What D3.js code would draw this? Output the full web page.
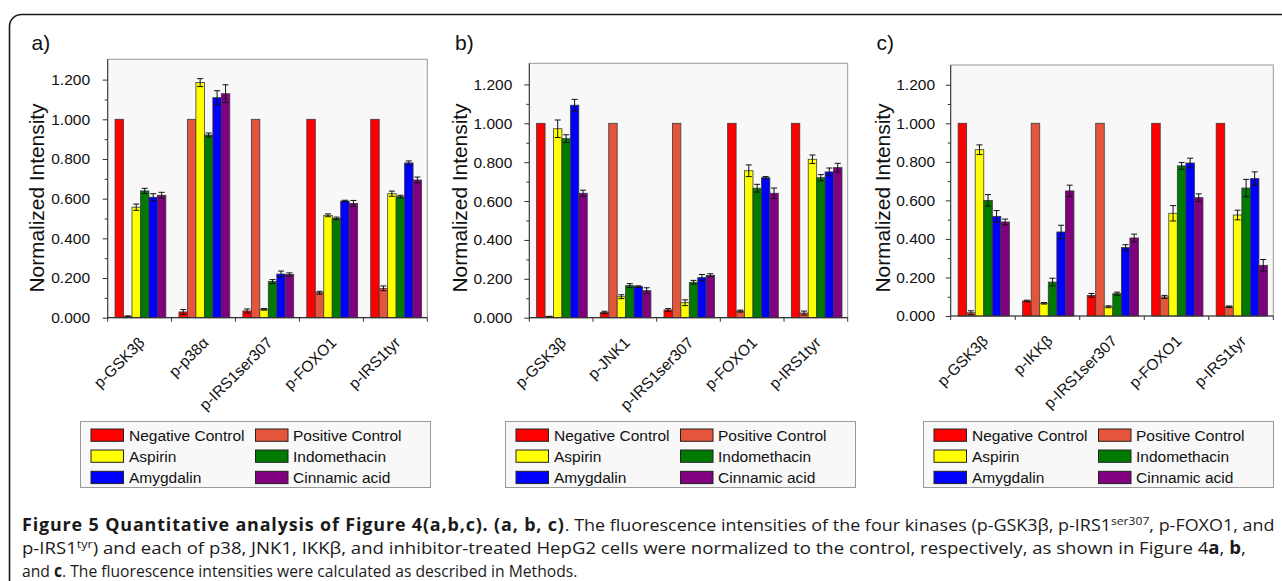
<!DOCTYPE html>
<html>
<head>
<meta charset="utf-8">
<script src="https://cdn.jsdelivr.net/npm/d3@7"></script>
<style>
html,body{margin:0;padding:0;background:#fff;}
svg{display:block;}
</style>
</head>
<body>
<svg id="chart" width="1282" height="581"></svg>
<script>
// ---------------- DATA ----------------
const seriesNames = ["Negative Control","Positive Control","Aspirin","Indomethacin","Amygdalin","Cinnamic acid"];
const categoriesA = ["p-GSK3β","p-p38α","p-IRS1ser307","p-FOXO1","p-IRS1tyr"];
const categoriesB = ["p-GSK3β","p-JNK1","p-IRS1ser307","p-FOXO1","p-IRS1tyr"];
const categoriesC = ["p-GSK3β","p-IKKβ","p-IRS1ser307","p-FOXO1","p-IRS1tyr"];
const yTickValues = [0,0.2,0.4,0.6,0.8,1.0,1.2];
const yMinorTickValues = [0.1,0.3,0.5,0.7,0.9,1.1];

// rows = categories, columns = series
const valuesA = [
  [1.000, 0.006, 0.557, 0.639, 0.607, 0.617],
  [0.029, 1.000, 1.185, 0.921, 1.109, 1.129],
  [0.034, 1.000, 0.042, 0.182, 0.220, 0.218],
  [1.000, 0.126, 0.516, 0.501, 0.588, 0.576],
  [1.000, 0.148, 0.625, 0.610, 0.780, 0.694]
];
const errorsA = [
  [0, 0.003, 0.016, 0.013, 0.018, 0.015],
  [0.012, 0, 0.020, 0.010, 0.035, 0.045],
  [0.010, 0, 0.004, 0.010, 0.015, 0.008],
  [0, 0.007, 0.007, 0.006, 0.004, 0.015],
  [0, 0.012, 0.013, 0.007, 0.010, 0.015]
];
const valuesB = [
  [1.000, 0.005, 0.972, 0.921, 1.093, 0.640],
  [0.027, 1.000, 0.108, 0.165, 0.160, 0.139],
  [0.040, 1.000, 0.077, 0.182, 0.206, 0.218],
  [1.000, 0.034, 0.756, 0.666, 0.720, 0.640],
  [1.000, 0.024, 0.815, 0.720, 0.750, 0.772]
];
const errorsB = [
  [0, 0.002, 0.045, 0.020, 0.030, 0.016],
  [0.006, 0, 0.010, 0.010, 0.004, 0.015],
  [0.007, 0, 0.015, 0.010, 0.016, 0.008],
  [0, 0.005, 0.030, 0.020, 0.006, 0.027],
  [0, 0.010, 0.022, 0.016, 0.020, 0.022]
];
const valuesC = [
  [1.000, 0.017, 0.863, 0.600, 0.517, 0.488],
  [0.078, 1.000, 0.066, 0.176, 0.436, 0.649],
  [0.107, 1.000, 0.048, 0.116, 0.355, 0.405],
  [1.000, 0.099, 0.533, 0.779, 0.794, 0.614],
  [1.000, 0.048, 0.524, 0.664, 0.713, 0.263]
];
const errorsC = [
  [0, 0.010, 0.025, 0.030, 0.030, 0.015],
  [0.004, 0, 0.004, 0.020, 0.035, 0.030],
  [0.010, 0, 0.005, 0.008, 0.015, 0.020],
  [0, 0.008, 0.040, 0.018, 0.025, 0.020],
  [0, 0.004, 0.025, 0.045, 0.035, 0.030]
];

// ---------------- STYLE ----------------
const seriesColors = ["#ff0000","#e5553c","#ffff00","#007a00","#0000ff","#800080"];
const FONT = "'Liberation Sans', Arial, sans-serif";

const svg = d3.select("#chart");

// outer rounded frame (extends past right/bottom edges)
svg.append("rect")
  .attr("x", 9.5).attr("y", 14.5)
  .attr("width", 1300).attr("height", 620)
  .attr("rx", 12).attr("ry", 12)
  .attr("fill", "none").attr("stroke", "#1a1a1a").attr("stroke-width", 1.6);

const panels = [
  {label:"a)", cats:categoriesA, vals:valuesA, errs:errorsA, x0:107.7, x1:427.3, yTop:59.3, y0:317.7, y1:119.3, labelX:31.5, tickLabelX:90, titleX:37.5, legendX:80},
  {label:"b)", cats:categoriesB, vals:valuesB, errs:errorsB, x0:529.3, x1:847.7, yTop:63.3, y0:317.7, y1:123.3, labelX:455, tickLabelX:512.3, titleX:460, legendX:505},
  {label:"c)", cats:categoriesC, vals:valuesC, errs:errorsC, x0:950.7, x1:1273.3, yTop:65, y0:316, y1:123.3, labelX:876.5, tickLabelX:935, titleX:883, legendX:923}
];

panels.forEach(p => {
  const g = svg.append("g");
  const x = d3.scaleBand().domain(p.cats).range([p.x0, p.x1]).padding(0);
  const bw = x.bandwidth();
  const xi = d3.scaleBand().domain(d3.range(seriesNames.length)).range([bw*0.115, bw*0.91]).padding(0);
  const y = d3.scaleLinear().domain([0, 1]).range([p.y0, p.y1]);

  // plot background
  g.append("rect")
    .attr("x", p.x0).attr("y", p.yTop)
    .attr("width", p.x1 - p.x0).attr("height", p.y0 - p.yTop)
    .attr("fill", "#f8f8f8").attr("stroke", "#9a9a9a").attr("stroke-width", 1);

  // bars
  p.cats.forEach((c, ci) => {
    const gg = g.append("g").attr("transform", `translate(${x(c)},0)`);
    const rows = p.vals[ci].map((v, si) => ({v, e: p.errs[ci][si], si}));
    gg.selectAll("rect.bar").data(rows).enter().append("rect")
      .attr("class", "bar")
      .attr("x", d => xi(d.si))
      .attr("y", d => y(d.v))
      .attr("width", xi.bandwidth())
      .attr("height", d => y(0) - y(d.v))
      .attr("fill", d => seriesColors[d.si])
      .attr("stroke", "#3a3a3a").attr("stroke-width", 0.8);
    const eb = rows.filter(d => d.e > 0);
    const cx = d => xi(d.si) + xi.bandwidth()/2;
    gg.selectAll("line.ev").data(eb).enter().append("line")
      .attr("x1", cx).attr("x2", cx)
      .attr("y1", d => y(d.v + d.e)).attr("y2", d => y(d.v - d.e))
      .attr("stroke", "#111").attr("stroke-width", 1);
    [1, -1].forEach(sgn => {
      gg.selectAll("line.cap" + sgn).data(eb).enter().append("line")
        .attr("x1", d => cx(d) - 3).attr("x2", d => cx(d) + 3)
        .attr("y1", d => y(d.v + sgn*d.e)).attr("y2", d => y(d.v + sgn*d.e))
        .attr("stroke", "#111").attr("stroke-width", 1);
    });
  });

  // y axis (major)
  const yAxis = d3.axisLeft(y).tickValues(yTickValues).tickSize(5).tickSizeOuter(0)
    .tickPadding(p.x0 - p.tickLabelX - 5).tickFormat(d3.format(".3f"));
  const ya = g.append("g").attr("transform", `translate(${p.x0},0)`).call(yAxis);
  ya.select(".domain").attr("d", `M0,${p.y0}V${p.yTop}`).attr("stroke", "#333");
  ya.selectAll(".tick line").attr("stroke", "#333");
  ya.selectAll(".tick text").attr("font-family", FONT).attr("font-size", 15.5).attr("fill", "#111");
  // minor ticks
  const yMinor = d3.axisLeft(y).tickValues(yMinorTickValues).tickSize(3).tickFormat("");
  const ym = g.append("g").attr("transform", `translate(${p.x0},0)`).call(yMinor);
  ym.select(".domain").remove();
  ym.selectAll(".tick line").attr("stroke", "#333");

  // x axis line + ticks at band boundaries
  g.append("line").attr("x1", p.x0).attr("x2", p.x1).attr("y1", p.y0).attr("y2", p.y0)
    .attr("stroke", "#333").attr("stroke-width", 1.2);
  const bounds = p.cats.map(c => x(c)).concat([p.x1]);
  g.selectAll("line.xt").data(bounds).enter().append("line")
    .attr("x1", d => d).attr("x2", d => d)
    .attr("y1", p.y0).attr("y2", p.y0 + 4)
    .attr("stroke", "#333");

  // x labels rotated
  g.selectAll("text.xl").data(p.cats).enter().append("text")
    .attr("transform", c => `translate(${x(c) + bw/2 + 6},${p.y0 + 26}) rotate(-45)`)
    .attr("text-anchor", "end")
    .attr("font-family", FONT).attr("font-size", 15.5).attr("fill", "#111")
    .text(c => c);

  // y title
  g.append("text")
    .attr("transform", `translate(${p.titleX + 6.5},198) rotate(-90)`)
    .attr("text-anchor", "middle")
    .attr("font-family", FONT).attr("font-size", 19.5).attr("fill", "#111")
    .attr("textLength", 189).attr("lengthAdjust", "spacingAndGlyphs")
    .text("Normalized Intensity");

  // panel label
  g.append("text").attr("x", p.labelX).attr("y", 50)
    .attr("font-family", FONT).attr("font-size", 21).attr("fill", "#111")
    .text(p.label);

  // legend
  const lg = g.append("g").attr("transform", `translate(${p.legendX},421)`);
  lg.append("rect").attr("x", 0.5).attr("y", 0.5).attr("width", 350).attr("height", 66)
    .attr("fill", "#f8f8f8").attr("stroke", "#9a9a9a").attr("stroke-width", 1);
  const rowsY = [14, 35, 56.3];
  const colSw = [11, 175.5];
  const colTx = [49, 213];
  const items = lg.selectAll("g.item").data(seriesNames).enter().append("g")
    .attr("transform", (d, i) => `translate(0,${rowsY[Math.floor(i/2)]})`);
  items.append("rect")
    .attr("x", (d, i) => colSw[i % 2]).attr("y", -6)
    .attr("width", 32.5).attr("height", 12.3)
    .attr("fill", (d, i) => seriesColors[i])
    .attr("stroke", "#222").attr("stroke-width", 1);
  items.append("text")
    .attr("x", (d, i) => colTx[i % 2]).attr("y", 0).attr("dy", "0.36em")
    .attr("font-family", FONT).attr("font-size", 15.5).attr("fill", "#111")
    .text(d => d);
});

// ---------------- CAPTION ----------------
const CAPFONT = "'Open Sans', 'Noto Sans', sans-serif";
const captionLines = [
  {y:531, target:1253, parts:[
    {t:"Figure 5 Quantitative analysis of Figure 4(a,b,c). (a, b, c)", b:true},
    {t:". The fluorescence intensities of the four kinases (p-GSK3β, p-IRS1"},
    {t:"ser307", sup:true},
    {t:", p-FOXO1, and"}
  ]},
  {y:554, target:1224, parts:[
    {t:"p-IRS1"},
    {t:"tyr", sup:true},
    {t:") and each of p38, JNK1, IKKβ, and inhibitor-treated HepG2 cells were normalized to the control, respectively, as shown in Figure 4"},
    {t:"a", b:true}, {t:", "}, {t:"b", b:true}, {t:","}
  ]},
  {y:577, target:556, parts:[
    {t:"and "}, {t:"c", b:true},
    {t:". The fluorescence intensities were calculated as described in Methods."}
  ]}
];
captionLines.forEach(line => {
  const t = svg.append("text").attr("x", 0).attr("y", 0)
    .attr("font-family", CAPFONT).attr("font-size", 17).attr("fill", "#1a1a1a");
  let prevSup = false;
  line.parts.forEach(pt => {
    const ts = t.append("tspan").text(pt.t);
    if (pt.b) ts.attr("font-weight", "bold");
    if (pt.b && pt.t.length > 20) ts.attr("letter-spacing", 0.8);
    if (pt.sup) { ts.attr("font-size", 11.5).attr("dy", -6.5); prevSup = true; }
    else if (prevSup) { ts.attr("dy", 6.5); prevSup = false; }
  });
  const w = t.node().getBBox().width;
  const sx = line.target / w;
  t.attr("transform", `translate(22,${line.y}) scale(${sx},1)`);
});
</script>
</body>
</html>
